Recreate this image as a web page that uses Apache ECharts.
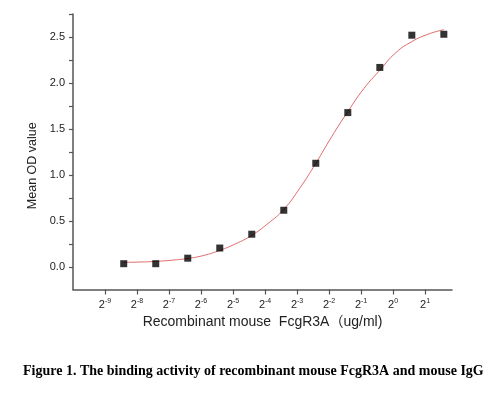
<!DOCTYPE html>
<html>
<head>
<meta charset="utf-8">
<script src="https://cdn.jsdelivr.net/npm/echarts@6/dist/echarts.min.js"></script>
<style>html,body{margin:0;padding:0;background:#fff;}#chart{width:494px;height:398px;}</style>
</head>
<body>
<div id="chart"></div>
<script>
// Measured points: concentration (ug/ml) and mean OD
const concentrations = [0.0029297, 0.0058594, 0.0117188, 0.0234375, 0.046875, 0.09375, 0.1875, 0.375, 0.75, 1.5, 3];
const meanOD = [0.04, 0.04, 0.10, 0.21, 0.36, 0.62, 1.13, 1.68, 2.17, 2.52, 2.53];
// Fitted curve
const curveConc = [0.0029297, 0.0041432, 0.0058594, 0.0082864, 0.0117188, 0.0165728, 0.0234375, 0.0331456, 0.046875, 0.0662913, 0.09375, 0.1325825, 0.1875, 0.2651650, 0.375, 0.5303301, 0.75, 1.0606602, 1.5, 2.1213203, 3];
const curveOD = [0.055, 0.058, 0.065, 0.078, 0.097, 0.13, 0.185, 0.257, 0.348, 0.475, 0.63, 0.86, 1.13, 1.42, 1.69, 1.94, 2.14, 2.33, 2.45, 2.53, 2.58];
// Tick values
const xTickValues = [Math.pow(2,-9), Math.pow(2,-8), Math.pow(2,-7), Math.pow(2,-6), Math.pow(2,-5), Math.pow(2,-4), Math.pow(2,-3), Math.pow(2,-2), Math.pow(2,-1), Math.pow(2,0), Math.pow(2,1)];
const yTickLabels = [0, 0.5, 1.0, 1.5, 2.0, 2.5];
const yTickMarks = [0, 0.25, 0.5, 0.75, 1.0, 1.25, 1.5, 1.75, 2.0, 2.25, 2.5, 2.75];

const chart = echarts.init(document.getElementById('chart'));
const axisColor = '#555';
const textColor = '#222';
chart.setOption({
  animation: false,
  backgroundColor: '#fff',
  title: {
    text: 'Figure 1. The binding activity of recombinant mouse FcgR3A and mouse IgG',
    left: 18, top: 359,
    textStyle: { fontFamily: 'Liberation Serif', fontWeight: 'bold', fontSize: 14, color: '#000' }
  },
  grid: { left: 73, right: 42, top: 14, bottom: 108.5, containLabel: false },
  xAxis: {
    type: 'log', logBase: 2,
    min: Math.pow(2, -10), max: Math.pow(2, 1.84),
    name: 'Recombinant mouse  FcgR3A（ug/ml)',
    nameLocation: 'middle', nameGap: 21,
    nameTextStyle: { fontFamily: 'Liberation Sans, Noto Sans CJK SC', fontSize: 14, color: textColor },
    axisLine: { onZero: false, lineStyle: { color: axisColor, width: 1.5 } },
    axisTick: { show: true, length: 5, customValues: xTickValues, lineStyle: { color: axisColor, width: 1.2 } },
    axisLabel: {
      customValues: xTickValues, margin: 8,
      formatter: function (v) { return '{b|2}{s|' + Math.round(Math.log2(v)) + '}'; },
      rich: {
        b: { fontFamily: 'Liberation Sans', fontSize: 11, color: textColor },
        s: { fontFamily: 'Liberation Sans', fontSize: 7, color: textColor, padding: [0, 0, 7, 0] }
      }
    },
    splitLine: { show: false }
  },
  yAxis: {
    type: 'value', min: -0.24, max: 2.75,
    name: 'Mean OD value', nameLocation: 'middle', nameGap: 33, nameRotate: 90,
    nameTextStyle: { fontFamily: 'Liberation Sans', fontSize: 12.5, color: textColor, padding: [0, 28, 0, 0] },
    axisLine: { show: true, onZero: false, lineStyle: { color: axisColor, width: 1.5 } },
    axisTick: { show: true, length: 4, customValues: yTickMarks, lineStyle: { color: axisColor, width: 1.2 } },
    axisLabel: {
      customValues: yTickLabels, margin: 8,
      fontFamily: 'Liberation Sans', fontSize: 11, color: textColor,
      formatter: function (v) { return v.toFixed(1); }
    },
    splitLine: { show: false }
  },
  series: [
    {
      type: 'line', smooth: true, showSymbol: false, silent: true,
      lineStyle: { color: '#e06a6a', width: 1 },
      data: curveConc.map(function (c, i) { return [c, curveOD[i]]; }),
      z: 2
    },
    {
      type: 'scatter', symbol: 'rect', symbolSize: 7,
      itemStyle: { color: '#000' },
      data: concentrations.map(function (c, i) { return [c, meanOD[i]]; }),
      z: 3
    }
  ]
});
</script>
</body>
</html>
